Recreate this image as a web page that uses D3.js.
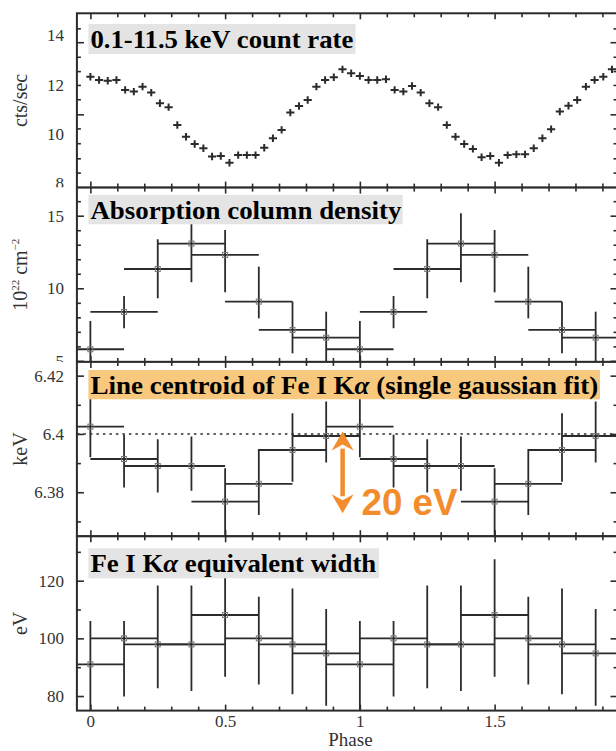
<!DOCTYPE html>
<html><head><meta charset="utf-8">
<script src="https://cdn.jsdelivr.net/npm/d3@7"></script>
<style>body{margin:0;background:#fff}svg{display:block}</style>
</head><body><svg id="c" width="616" height="751"></svg>
<script>
// ---------------- DATA ----------------
// count-rate light curve, 31 bins per cycle, two cycles shown
const countBinsPerCycle = 31;
const countRate = [12.32,12.19,12.16,12.19,11.79,11.72,11.92,11.68,11.25,11.09,10.37,9.89,9.60,9.43,9.09,9.11,8.84,9.15,9.15,9.15,9.45,9.83,10.17,10.87,11.14,11.38,11.92,12.19,12.30,12.62,12.46,
                   12.35,12.19,12.19,12.22,11.79,11.72,11.95,11.68,11.25,11.09,10.37,9.89,9.60,9.40,9.06,9.11,8.84,9.15,9.18,9.18,9.43,9.83,10.20,10.91,11.15,11.38,11.92,12.19,12.32,12.62];
const countErr = 0.15;
// phase-resolved spectral bins (centre phase, half-width 0.125)
const binPhase = [0,0.125,0.25,0.375,0.5,0.625,0.75,0.875,1,1.125,1.25,1.375,1.5,1.625,1.75,1.875];
const binHalfWidth = 0.125;
const nhVal = [5.80,8.37,11.33,13.08,12.30,9.08,7.13,6.60, 5.80,8.37,11.33,13.08,12.30,9.08,7.13,6.60];
const nhLo  = [3.80,7.25,9.31,10.41,9.72,7.93,5.52,4.80, 3.80,7.25,9.31,10.41,9.72,7.93,5.52,4.80];
const nhHi  = [7.75,9.47,13.37,15.17,14.02,11.49,9.08,8.39, 7.75,9.47,13.37,15.17,14.02,11.49,9.08,8.39];
const cenVal = [6.4025,6.3914,6.3890,6.3890,6.3768,6.3829,6.3945,6.3993, 6.4025,6.3914,6.3890,6.3890,6.3768,6.3829,6.3945,6.3993];
const cenLo  = [6.3920,6.3816,6.3799,6.3805,6.3630,6.3722,6.3836,6.3902, 6.3920,6.3816,6.3799,6.3805,6.3630,6.3722,6.3836,6.3902];
const cenHi  = [6.4145,6.3997,6.3982,6.3991,6.3882,6.3948,6.4071,6.4111, 6.4145,6.3997,6.3982,6.3991,6.3882,6.3948,6.4071,6.4111];
const cenRef = 6.40;
const ewVal = [91.0,100.0,97.9,97.9,108.1,100.0,97.9,94.8, 91.0,100.0,97.9,97.9,108.1,100.0,97.9,94.8];
const ewLo  = [70.0,79.8,82.7,81.7,86.7,84.0,80.6,76.6, 70.0,79.8,82.7,81.7,86.7,84.0,80.6,76.6];
const ewHi  = [106.0,106.0,118.3,118.3,127.4,114.45,117.3,110.2, 106.0,106.0,118.3,118.3,127.4,114.45,117.3,110.2];
// arrow annotation (20 eV)
const arrowPhase = 0.936, arrowTop = 6.4008, arrowBottom = 6.3728;
// tick values
const phaseTickLabels = [0,0.5,1,1.5];
const phaseMinorTicks = [0.1,0.2,0.3,0.4,0.6,0.7,0.8,0.9,1.1,1.2,1.3,1.4,1.6,1.7,1.8,1.9];
const countTickLabels = [8,10,12,14];
const countTickMajor = [13.72,10.80];
const countTickMinor = [14.28,13.13,12.55,11.99,11.41,10.23,9.63,9.02,8.44];
const nhTickLabels = [5,10,15];
const nhTickMinor = [6,7,8,9,11,12,13,14,16];
const cenTickLabels = [6.38,6.40,6.42];
const cenTickMinor = [6.37,6.39,6.41];
const ewTickLabels = [80,100,120];
const ewTickMinor = [90,110,130];
const titles = ["0.1-11.5 keV count rate","Absorption column density","Line centroid of Fe I K|α| (single gaussian fit)","Fe I K|α| equivalent width"];

// ---------------- LAYOUT ----------------
const svg = d3.select("#c");
const INK = "#2b2b2b";
const x = d3.scaleLinear().domain([-0.05, 1.956]).range([76.9, 617.5]);
const panelTops = [13.3, 187.6, 361.9, 536.3];
const panelH = 174.3;
const boxes = [
  {x0:88.4,x1:355.6,y0:24,y1:54,fill:"#e4e4e4",w:263},
  {x0:88.4,x1:402.7,y0:195,y1:224.3,fill:"#e4e4e4",w:311},
  {x0:88.4,x1:600,y0:370,y1:399.3,fill:"#f8c87f",w:508},
  {x0:88.4,x1:379,y0:548.3,y1:578.3,fill:"#e4e4e4",w:286}
];

const panels = [
  {domain:[7.834,14.89], labels:countTickLabels, major:countTickMajor, minor:countTickMinor, fmt:d=>String(d), ylab:"cts/sec"},
  {domain:[4.93,16.935], labels:nhTickLabels, major:nhTickLabels, minor:nhTickMinor, fmt:d=>String(d), ylab:"nh"},
  {domain:[6.36492,6.42472], labels:cenTickLabels, major:cenTickLabels, minor:cenTickMinor, fmt:d=>String(+d.toFixed(2)), ylab:"keV"},
  {domain:[74.94,135.4], labels:ewTickLabels, major:ewTickLabels, minor:ewTickMinor, fmt:d=>String(d), ylab:"eV"}
];

const xl = x(-0.05), xr = x(1.956);

function styleAxis(g){
  g.select(".domain").remove();
  g.selectAll("line").attr("stroke", INK).attr("stroke-width", 1.6);
}

panels.forEach((p, i) => {
  const top = panelTops[i], bot = top + panelH;
  const y = d3.scaleLinear().domain(p.domain).range([bot, top]);
  p.y = y;
  const g = svg.append("g");
  // white background covering overflow of previous panel
  g.append("rect").attr("x",0).attr("y",top).attr("width",616).attr("height",panelH).attr("fill","#fff");
  const cid = "clip"+i;
  svg.append("clipPath").attr("id",cid).append("rect").attr("x",xl).attr("y",top).attr("width",xr-xl).attr("height",panelH);
  const data = g.append("g").attr("clip-path",`url(#${cid})`);

  if (i === 0) {
    const bw = 0.47 / countBinsPerCycle;
    countRate.forEach((v, k) => {
      const ph = k / countBinsPerCycle;
      data.append("line").attr("x1",x(ph-bw)).attr("x2",x(ph+bw)).attr("y1",y(v)).attr("y2",y(v))
        .attr("stroke",INK).attr("stroke-width",2);
      data.append("line").attr("x1",x(ph)).attr("x2",x(ph)).attr("y1",y(v-countErr)).attr("y2",y(v+countErr))
        .attr("stroke",INK).attr("stroke-width",2);
    });
  } else {
    const vals = [null, nhVal, cenVal, ewVal][i];
    const lo = [null, nhLo, cenLo, ewLo][i];
    const hi = [null, nhHi, cenHi, ewHi][i];
    if (i === 2) {
      data.append("line").attr("x1",xl).attr("x2",xr).attr("y1",y(cenRef)).attr("y2",y(cenRef))
        .attr("stroke",INK).attr("stroke-width",1.4).attr("stroke-dasharray","2.5,4");
    }
    binPhase.forEach((ph, k) => {
      data.append("line").attr("x1",x(ph-binHalfWidth)).attr("x2",x(ph+binHalfWidth)).attr("y1",y(vals[k])).attr("y2",y(vals[k]))
        .attr("stroke",INK).attr("stroke-width",1.8);
      data.append("line").attr("x1",x(ph)).attr("x2",x(ph)).attr("y1",y(lo[k])).attr("y2",y(hi[k]))
        .attr("stroke",INK).attr("stroke-width",1.8);
      data.append("rect").attr("x",x(ph)-2.5).attr("y",y(vals[k])-2.5).attr("width",5).attr("height",5)
        .attr("fill","none").attr("stroke","#777").attr("stroke-width",1);
    });
  }

  // y ticks inward on both sides
  const left = g.append("g").attr("transform",`translate(${xl},0)`);
  left.append("g").call(d3.axisLeft(y).tickValues(p.minor).tickSize(-4).tickFormat("")).call(styleAxis);
  left.append("g").call(d3.axisLeft(y).tickValues(p.major).tickSize(-7).tickFormat("")).call(styleAxis);
  const right = g.append("g").attr("transform",`translate(${xr},0)`);
  right.append("g").call(d3.axisRight(y).tickValues(p.minor).tickSize(-4).tickFormat("")).call(styleAxis);
  right.append("g").call(d3.axisRight(y).tickValues(p.major).tickSize(-7).tickFormat("")).call(styleAxis);
  // y tick labels (clipped to the panel's own band)
  const lcid = "lclip"+i;
  svg.append("clipPath").attr("id",lcid).append("rect").attr("x",-xl).attr("y",top).attr("width",xl).attr("height",panelH);
  const lab = left.append("g").attr("clip-path",`url(#${lcid})`)
    .call(d3.axisLeft(y).tickValues(p.labels).tickSize(0).tickPadding(13).tickFormat(p.fmt));
  lab.select(".domain").remove();
  lab.selectAll("text").attr("font-family","'Liberation Serif', serif").attr("font-size",17).attr("fill","#333");

  // x ticks top & bottom, inward
  const tg = g.append("g").attr("transform",`translate(0,${top})`);
  tg.append("g").call(d3.axisTop(x).tickValues(phaseMinorTicks).tickSize(-4).tickFormat("")).call(styleAxis);
  tg.append("g").call(d3.axisTop(x).tickValues(phaseTickLabels).tickSize(-6).tickFormat("")).call(styleAxis);
  const bg = g.append("g").attr("transform",`translate(0,${bot})`);
  bg.append("g").call(d3.axisBottom(x).tickValues(phaseMinorTicks).tickSize(-4).tickFormat("")).call(styleAxis);
  bg.append("g").call(d3.axisBottom(x).tickValues(phaseTickLabels).tickSize(-6).tickFormat("")).call(styleAxis);

  // frame
  g.append("rect").attr("x",xl).attr("y",top).attr("width",xr-xl).attr("height",panelH)
    .attr("fill","none").attr("stroke",INK).attr("stroke-width",2);

  // title box (drawn over data)
  const b = boxes[i];
  g.append("rect").attr("x",b.x0).attr("y",b.y0).attr("width",b.x1-b.x0).attr("height",b.y1-b.y0).attr("fill",b.fill);
  const t = g.append("text").attr("x",0).attr("y",0)
    .attr("font-family","'Liberation Serif', 'Times New Roman', serif").attr("font-weight","bold").attr("font-size",25).attr("fill","#000");
  titles[i].split("|").forEach((s, j) => {
    const ts = t.append("tspan").text(s);
    if (j % 2 === 1) ts.attr("font-style","italic");
  });
  const wNow = t.node().getComputedTextLength();
  t.attr("transform",`translate(${b.x0+2},${b.y0+24}) scale(${b.w/wNow},1)`);

  // y axis title
  const yc = (top + bot) / 2;
  const yt = svg.append("text").attr("transform",`translate(27,${yc}) rotate(-90)`).attr("text-anchor","middle")
    .attr("font-family","'Liberation Serif', serif").attr("font-size",20).attr("fill","#333");
  if (p.ylab === "nh") {
    yt.append("tspan").text("10");
    yt.append("tspan").text("22").attr("font-size",11).attr("dy",-8);
    yt.append("tspan").text(" cm").attr("font-size",20).attr("dy",8);
    yt.append("tspan").text("−2").attr("font-size",11).attr("dy",-8);
  } else {
    yt.text(p.ylab);
  }
});

// x tick labels & title under bottom panel
const bottomY = panelTops[3] + panelH;
const xlab = svg.append("g").attr("transform",`translate(0,${bottomY})`)
  .call(d3.axisBottom(x).tickValues(phaseTickLabels).tickSize(0).tickPadding(4).tickFormat(d=>String(d)));
xlab.select(".domain").remove();
xlab.selectAll("text").attr("font-family","'Liberation Serif', serif").attr("font-size",17).attr("fill","#333");
svg.append("text").attr("x",x(0.965)).attr("y",746).attr("text-anchor","middle")
  .attr("font-family","'Liberation Serif', serif").attr("font-size",19).attr("fill","#333").text("Phase");

// orange 20 eV arrow
const yc3 = panels[2].y;
const ax = x(arrowPhase), ay0 = yc3(arrowTop), ay1 = yc3(arrowBottom);
const ORANGE = "#f28c2c";
const headH = 19, headW = 11;
const ag = svg.append("g");
ag.append("line").attr("x1",ax).attr("x2",ax).attr("y1",ay0+headH-2).attr("y2",ay1-headH+2).attr("stroke",ORANGE).attr("stroke-width",4.5);
ag.append("path").attr("d",`M${ax},${ay0} L${ax+headW},${ay0+headH} L${ax},${ay0+headH-6} L${ax-headW},${ay0+headH} Z`).attr("fill",ORANGE);
ag.append("path").attr("d",`M${ax},${ay1} L${ax+headW},${ay1-headH} L${ax},${ay1-headH+6} L${ax-headW},${ay1-headH} Z`).attr("fill",ORANGE);
const et = svg.append("text").attr("x",0).attr("y",0)
  .attr("font-family","'Liberation Sans', Arial, sans-serif").attr("font-weight","bold").attr("font-size",36).attr("fill",ORANGE).text("20 eV");
const ew0 = et.node().getComputedTextLength();
et.attr("transform",`translate(361.5,515) scale(${96/ew0},1)`);
</script>
</body></html>
